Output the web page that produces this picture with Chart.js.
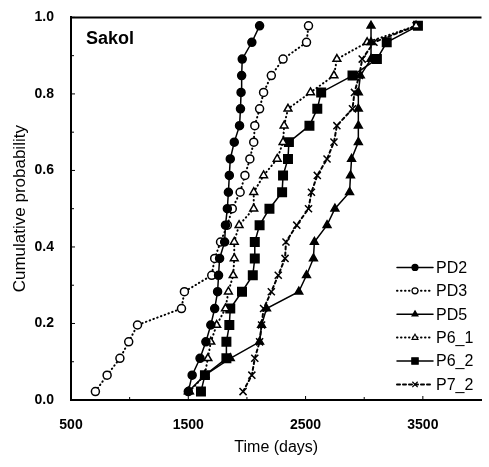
<!DOCTYPE html>
<html lang="en">
<head>
<meta charset="UTF-8" />
<title>Sakol</title>
<script src="https://cdn.jsdelivr.net/npm/chart.js"></script>
<style>
  html, body { margin: 0; padding: 0; background: #fff; }
</style>
</head>
<body>
<canvas id="cdfChart" width="489" height="467"></canvas>
<script>
// cumulative probability levels shared by every site
const probability = [0.022, 0.065, 0.109, 0.152, 0.196, 0.239, 0.283, 0.326, 0.370, 0.413, 0.457, 0.500,
  0.543, 0.587, 0.630, 0.674, 0.717, 0.761, 0.804, 0.848, 0.891, 0.935, 0.978];

// time in days reached at each level
const pd2Days = [1500, 1533, 1600, 1650, 1692, 1725, 1750, 1758, 1767, 1810, 1817, 1833, 1842, 1850, 1858, 1892, 1937, 1945, 1950, 1955, 1960, 2042, 2108];
const pd3Days = [708, 808, 917, 992, 1067, 1442, 1467, 1700, 1725, 1775, 1833, 1875, 1942, 1983, 2025, 2058, 2067, 2108, 2142, 2208, 2308, 2508, 2525];
const pd5Days = [1500, 1642, 1858, 2108, 2125, 2167, 2442, 2508, 2567, 2575, 2683, 2750, 2875, 2883, 2892, 2950, 2950, 2950, 2950, 2967, 3058, 3058, 3058];
const p61Days = [1510, 1640, 1667, 1692, 1742, 1817, 1842, 1883, 1892, 1892, 1933, 2058, 2058, 2142, 2258, 2308, 2317, 2350, 2542, 2742, 2767, 3025, 3442];
const p62Days = [1608, 1642, 1825, 1825, 1850, 1858, 1958, 2050, 2067, 2067, 2108, 2192, 2300, 2308, 2350, 2358, 2533, 2600, 2633, 2900, 3108, 3192, 3458];
const p72Days = [1967, 2042, 2067, 2108, 2125, 2142, 2208, 2267, 2325, 2333, 2425, 2525, 2550, 2600, 2683, 2742, 2767, 2900, 2917, 2958, 2983, 3083, 3442];

const seriesNames = ['PD2', 'PD3', 'PD5', 'P6_1', 'P6_2', 'P7_2'];
const xTicks = [500, 1500, 2500, 3500];
const xMinor = [1000, 2000, 3000];
const yTicks = [0, 0.2, 0.4, 0.6, 0.8, 1.0];
const yMinor = [0.1, 0.3, 0.5, 0.7, 0.9];

const FONT = '"Liberation Sans", Arial, sans-serif';

function points(days) {
  return days.map((d, i) => ({ x: d, y: probability[i] }));
}

const dotted = [0.5, 3.5];
const styles = [
  { days: pd2Days, pointStyle: 'circle', fill: true, dash: [], radius: 4 },
  { days: pd3Days, pointStyle: 'circle', fill: false, dash: dotted, radius: 4 },
  { days: pd5Days, pointStyle: 'triangle', fill: true, dash: [], radius: 4.5 },
  { days: p61Days, pointStyle: 'triangle', fill: false, dash: dotted, radius: 4.5 },
  { days: p62Days, pointStyle: 'rect', fill: true, dash: [], radius: 6 },
  { days: p72Days, pointStyle: 'crossRot', fill: false, dash: [3, 3], radius: 5 }
];

const datasets = styles.map((s, i) => ({
  label: seriesNames[i],
  data: points(s.days),
  borderColor: '#000',
  borderWidth: s.dash.length ? 2 : 1.5,
  borderDash: s.dash,
  borderCapStyle: 'round',
  pointStyle: s.pointStyle,
  pointRadius: s.radius,
  pointBorderWidth: 1.5,
  pointBorderColor: '#000',
  pointBackgroundColor: s.fill ? '#000' : '#fff',
  tension: 0
}));

// top frame line, inner tick marks, panel name and legend
const frame = {
  id: 'frame',
  afterDraw(chart) {
    const { ctx, chartArea: a, scales: { x, y } } = chart;
    ctx.save();
    ctx.strokeStyle = '#000';
    ctx.lineWidth = 2;
    ctx.beginPath();
    ctx.moveTo(a.left - 1, a.top);
    ctx.lineTo(a.right, a.top);
    ctx.stroke();

    ctx.lineWidth = 1;
    ctx.beginPath();
    yTicks.forEach(v => { const p = y.getPixelForValue(v); ctx.moveTo(a.left, p); ctx.lineTo(a.left + 4, p); });
    yMinor.forEach(v => { const p = y.getPixelForValue(v); ctx.moveTo(a.left, p); ctx.lineTo(a.left + 3, p); });
    xTicks.forEach(v => { const p = x.getPixelForValue(v); ctx.moveTo(p, a.bottom); ctx.lineTo(p, a.bottom - 4); });
    xMinor.forEach(v => { const p = x.getPixelForValue(v); ctx.moveTo(p, a.bottom); ctx.lineTo(p, a.bottom - 3); });
    ctx.stroke();

    ctx.fillStyle = '#000';
    ctx.font = 'bold 18px ' + FONT;
    ctx.textBaseline = 'alphabetic';
    ctx.fillText('Sakol', a.left + 15, a.top + 27);

    // legend: short line with the marker in the middle
    const lx = a.left + 326, ly = a.top + 250, lw = 36, gap = 23.4;
    ctx.font = '16px ' + FONT;
    ctx.textBaseline = 'middle';
    chart.data.datasets.forEach((ds, i) => {
      const yy = ly + i * gap;
      ctx.save();
      ctx.lineWidth = ds.borderWidth;
      ctx.lineCap = 'round';
      ctx.setLineDash(ds.borderDash);
      ctx.beginPath();
      ctx.moveTo(lx, yy);
      ctx.lineTo(lx + lw, yy);
      ctx.stroke();
      ctx.restore();
      ctx.save();
      ctx.fillStyle = ds.pointBackgroundColor;
      ctx.strokeStyle = '#000';
      ctx.lineWidth = 1.2;
      Chart.helpers.drawPoint(ctx, { pointStyle: ds.pointStyle, radius: ds.pointRadius * 0.75, borderWidth: 1.2, rotation: 0 }, lx + lw / 2, yy);
      ctx.restore();
      ctx.fillText(ds.label, lx + lw + 3, yy + 1);
    });
    ctx.restore();
  }
};

new Chart(document.getElementById('cdfChart'), {
  type: 'line',
  data: { datasets },
  plugins: [frame],
  options: {
    responsive: false,
    animation: false,
    devicePixelRatio: 1,
    layout: { padding: { top: 13, left: 0, right: 0, bottom: 0 } },
    plugins: { legend: { display: false }, tooltip: { enabled: false } },
    scales: {
      x: {
        type: 'linear',
        min: 500,
        max: 4000,
        afterBuildTicks: s => { s.ticks = xTicks.map(v => ({ value: v })); },
        afterFit: s => { s.height = 67; },
        grid: { display: false },
        border: { display: true, color: '#000', width: 2 },
        ticks: { color: '#000', padding: 9, maxRotation: 0, callback: v => String(v), font: { family: FONT, size: 14, weight: 'bold' } },
        title: { display: true, text: 'Time (days)', color: '#000', padding: { bottom: 10 }, font: { family: FONT, size: 16 } }
      },
      y: {
        type: 'linear',
        min: 0,
        max: 1,
        afterBuildTicks: s => { s.ticks = yTicks.map(v => ({ value: v })); },
        afterFit: s => { s.width = 71; },
        grid: { display: false },
        border: { display: true, color: '#000', width: 2 },
        ticks: { color: '#000', padding: 9, callback: v => v.toFixed(1), font: { family: FONT, size: 14, weight: 'bold' } },
        title: { display: true, text: 'Cumulative probability', color: '#000', padding: { top: 10 }, font: { family: FONT, size: 17 } }
      }
    }
  }
});
</script>
</body>
</html>
